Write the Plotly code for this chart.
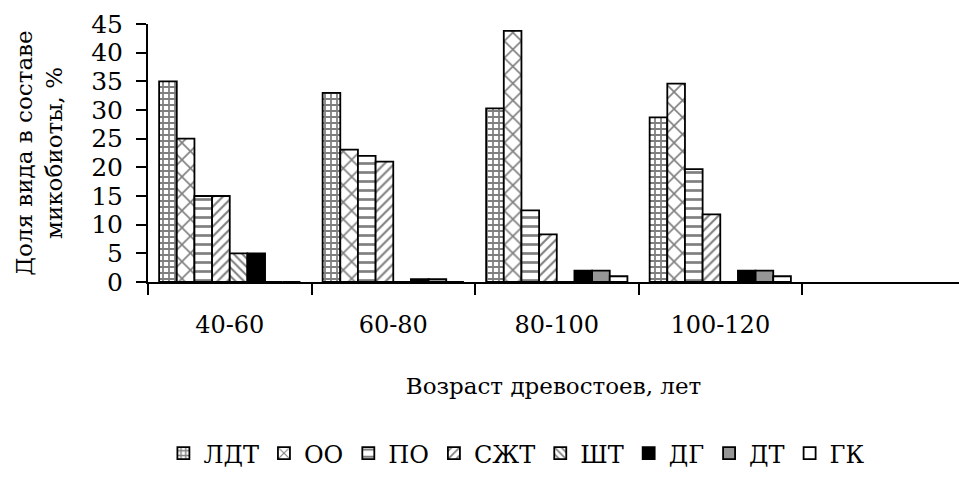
import plotly.graph_objects as go

# Age classes of the stands (x categories)
age_classes = ["40-60", "60-80", "80-100", "100-120"]

# Share of each species in the mycobiota, %
series_names = ["ЛДТ", "ОО", "ПО", "СЖТ", "ШТ", "ДГ", "ДТ", "ГК"]
ldt = [35, 33, 30.3, 28.7]
oo = [25, 23.1, 43.8, 34.6]
po = [15, 22, 12.5, 19.7]
szht = [15, 21, 8.3, 11.8]
sht = [5, 0, 0, 0]
dg = [5, 0.5, 2, 2]
dt = [0, 0.5, 2, 2]
gk = [0, 0, 1, 1]

y_ticks = [0, 5, 10, 15, 20, 25, 30, 35, 40, 45]

series_values = [ldt, oo, po, szht, sht, dg, dt, gk]

# Fill style per series: (background colour, pattern shape, pattern size, solidity)
styles = [
    ("white", "+", 6, 0.5),
    ("white", "x", 12, 0.25),
    ("white", "-", 9, 0.3),
    ("white", "/", 7, 0.3),
    ("white", "\\", 6, 0.35),
    ("black", "", 8, 0.3),
    ("#969696", "", 8, 0.3),
    ("white", "", 8, 0.3),
]

FONT = "DejaVu Serif"

fig = go.Figure()
for name, vals, (bg, shape, size, solid) in zip(series_names, series_values, styles):
    pattern = dict(shape=shape, fgcolor="black", bgcolor=bg, size=size,
                   solidity=solid, fillmode="overlay")
    fig.add_trace(go.Bar(
        name=name,
        x=age_classes,
        y=vals,
        marker=dict(color=bg, line=dict(color="black", width=1.8),
                    pattern=pattern),
    ))

fig.update_layout(
    width=959,
    height=484,
    barmode="group",
    bargap=0.136,
    bargroupgap=0,
    plot_bgcolor="white",
    paper_bgcolor="white",
    margin=dict(l=148, r=0, t=24, b=202, autoexpand=False),
    font=dict(family=FONT, color="black", size=24),
    legend=dict(
        orientation="h",
        xref="container",
        x=0.539, xanchor="center",
        y=-0.665, yanchor="middle",
        font=dict(family=FONT, size=24, color="black"),
        itemwidth=30,
        traceorder="normal",
    ),
)

fig.update_xaxes(
    range=[-0.5, 4.46],
    showline=True, linecolor="black", linewidth=2,
    ticks="outside", tickson="boundaries", ticklen=11, tickwidth=2,
    tickcolor="black",
    tickfont=dict(family=FONT, size=24),
    ticklabelstandoff=20,
    showgrid=False, zeroline=False,
    title=dict(text="Возраст древостоев, лет", standoff=40,
               font=dict(family=FONT, size=23)),
    automargin=False,
)

fig.update_yaxes(
    range=[0, 45],
    tickvals=y_ticks,
    showline=True, linecolor="black", linewidth=2,
    ticks="outside", ticklen=10, tickwidth=2, tickcolor="black",
    tickfont=dict(family=FONT, size=25),
    ticklabelstandoff=8,
    showgrid=False, zeroline=False,
    title=dict(text="Доля вида в составе<br>микобиоты, %", standoff=22,
               font=dict(family=FONT, size=23)),
    automargin=False,
)

fig.write_html("out.html")
